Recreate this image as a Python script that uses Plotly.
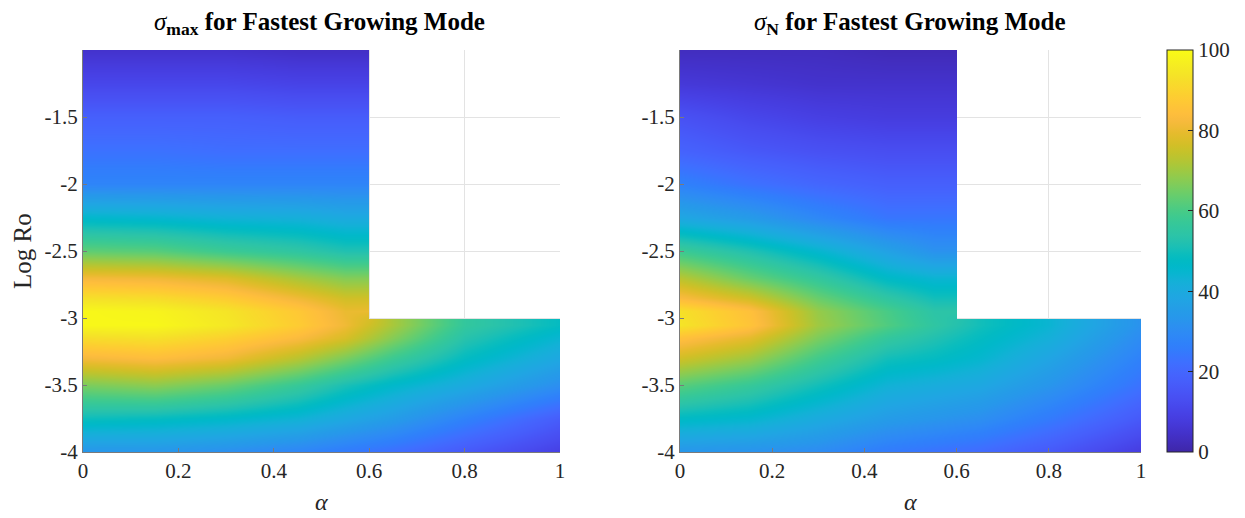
import numpy as np
import plotly.graph_objects as go

# ---- data ----
alpha = [0, 0.15, 0.3, 0.45, 0.55, 0.65, 0.8, 1.0]
log_ro = [-4.0, -3.75, -3.5, -3.3, -3.15, -3.05, -2.95, -2.85, -2.7, -2.5,
          -2.25, -2.0, -1.75, -1.5, -1.25, -1.0]
N = None
sigma_max = [
    [33, 33, 31, 28, 25, 22, 16, 9],
    [49, 48, 46, 43, 39, 35, 27, 17],
    [66, 68, 64, 57, 51, 46, 40, 31],
    [82, 84, 81, 73, 66, 58, 48, 39],
    [92, 93, 89, 83, 77, 67, 53, 44],
    [99, 99, 95, 88, 81, 71, 56, 48],
    [99, 98, 94, 87, 80, N, N, N],
    [93, 92, 88, 81, 76, N, N, N],
    [82, 81, 78, 71, 67, N, N, N],
    [63, 62, 58, 55, 52, N, N, N],
    [46, 45, 43, 42, 40, N, N, N],
    [28, 28, 28, 28, 28, N, N, N],
    [23, 23, 22, 22, 22, N, N, N],
    [18, 18, 18, 17, 17, N, N, N],
    [11, 11, 11, 10, 10, N, N, N],
    [5, 5, 5, 4, 4, N, N, N],
]
sigma_n = [
    [33, 32, 30, 25, 23, 21, 16, 8],
    [47, 45, 40, 35, 33, 31, 25, 16],
    [62, 57, 50, 43, 41, 39, 33, 23],
    [76, 70, 59, 50, 48, 45, 38, 27],
    [85, 79, 66, 56, 52, 48, 42, 30],
    [94, 86, 70, 61, 55, 50, 44, 32],
    [93, 85, 69, 60, 54, N, N, N],
    [83, 76, 64, 55, 50, N, N, N],
    [73, 64, 56, 47, 44, N, N, N],
    [58, 52, 45, 37, 32, N, N, N],
    [39, 35, 29, 24, 24, N, N, N],
    [27, 23, 20, 18, 18, N, N, N],
    [19, 16, 14, 13, 13, N, N, N],
    [14, 11, 9, 8, 8, N, N, N],
    [7, 6, 5, 5, 5, N, N, N],
    [3, 3, 3, 2, 2, N, N, N],
]
x_ticks = [0, 0.2, 0.4, 0.6, 0.8, 1]
x_ticktext = ["0", "0.2", "0.4", "0.6", "0.8", "1"]
y_ticks = [-4, -3.5, -3, -2.5, -2, -1.5]
y_ticktext = ["-4", "-3.5", "-3", "-2.5", "-2", "-1.5"]
cb_ticks = [0, 20, 40, 60, 80, 100]

# ---- parula colormap ----
parula = [
    (0.2422, 0.1504, 0.6603), (0.2504, 0.1650, 0.7076), (0.2578, 0.1818, 0.7511),
    (0.2647, 0.1978, 0.7952), (0.2706, 0.2147, 0.8364), (0.2751, 0.2342, 0.8710),
    (0.2783, 0.2559, 0.8991), (0.2803, 0.2782, 0.9221), (0.2813, 0.3006, 0.9414),
    (0.2810, 0.3228, 0.9579), (0.2795, 0.3447, 0.9717), (0.2760, 0.3667, 0.9829),
    (0.2699, 0.3892, 0.9906), (0.2602, 0.4123, 0.9952), (0.2440, 0.4358, 0.9988),
    (0.2206, 0.4603, 0.9973), (0.1963, 0.4847, 0.9892), (0.1834, 0.5074, 0.9798),
    (0.1786, 0.5289, 0.9682), (0.1764, 0.5499, 0.9520), (0.1687, 0.5703, 0.9359),
    (0.1540, 0.5902, 0.9218), (0.1460, 0.6091, 0.9079), (0.1380, 0.6276, 0.8973),
    (0.1248, 0.6459, 0.8883), (0.1113, 0.6635, 0.8763), (0.0952, 0.6798, 0.8598),
    (0.0689, 0.6948, 0.8394), (0.0297, 0.7082, 0.8163), (0.0036, 0.7203, 0.7917),
    (0.0067, 0.7312, 0.7660), (0.0433, 0.7411, 0.7394), (0.0964, 0.7500, 0.7120),
    (0.1408, 0.7584, 0.6842), (0.1717, 0.7670, 0.6554), (0.1938, 0.7758, 0.6251),
    (0.2161, 0.7843, 0.5923), (0.2470, 0.7918, 0.5567), (0.2906, 0.7973, 0.5188),
    (0.3406, 0.8008, 0.4789), (0.3909, 0.8029, 0.4354), (0.4456, 0.8024, 0.3909),
    (0.5044, 0.7993, 0.3480), (0.5616, 0.7942, 0.3045), (0.6174, 0.7876, 0.2612),
    (0.6720, 0.7793, 0.2227), (0.7242, 0.7698, 0.1910), (0.7738, 0.7598, 0.1646),
    (0.8203, 0.7498, 0.1535), (0.8634, 0.7406, 0.1596), (0.9035, 0.7330, 0.1774),
    (0.9393, 0.7288, 0.2100), (0.9728, 0.7298, 0.2394), (0.9956, 0.7434, 0.2371),
    (0.9970, 0.7659, 0.2199), (0.9952, 0.7893, 0.2028), (0.9892, 0.8136, 0.1885),
    (0.9786, 0.8386, 0.1766), (0.9676, 0.8639, 0.1643), (0.9610, 0.8890, 0.1537),
    (0.9597, 0.9135, 0.1423), (0.9628, 0.9373, 0.1265), (0.9691, 0.9606, 0.1064),
    (0.9769, 0.9839, 0.0805),
]
n = len(parula)
colorscale = [[i / (n - 1), "rgb(%d,%d,%d)" % tuple(round(c * 255) for c in col)]
              for i, col in enumerate(parula)]

W, H = 1245, 518
FONT = "Liberation Serif, Times New Roman, serif"
TXT = "#262626"

def px_x(p):
    return p / W

def px_y(p):
    return 1 - p / H

fig = go.Figure()
fig.add_trace(go.Heatmap(x=alpha, y=log_ro, z=sigma_max, zsmooth="best",
                         coloraxis="coloraxis", xaxis="x", yaxis="y",
                         hoverongaps=False))
fig.add_trace(go.Heatmap(x=alpha, y=log_ro, z=sigma_n, zsmooth="best",
                         coloraxis="coloraxis", xaxis="x2", yaxis="y2",
                         hoverongaps=False))

axis_common = dict(
    showgrid=True, gridcolor="#e3e3e3", gridwidth=1,
    showline=True, linecolor="#7a7a7a", linewidth=1,
    ticks="inside", ticklen=4, tickcolor="#7a7a7a",
    zeroline=False, automargin=False,
    tickfont=dict(family=FONT, size=21, color=TXT),
)
y0, y1 = px_y(452), px_y(50)
fig.update_layout(
    width=W, height=H, margin=dict(l=0, r=0, t=0, b=0, pad=0, autoexpand=False),
    paper_bgcolor="white", plot_bgcolor="white",
    showlegend=False,
    xaxis=dict(domain=[px_x(83), px_x(560)], range=[0, 1], tickvals=x_ticks,
               ticktext=x_ticktext, anchor="y", **axis_common),
    yaxis=dict(domain=[y0, y1], range=[-4, -1], tickvals=y_ticks,
               ticktext=y_ticktext, anchor="x", **axis_common),
    xaxis2=dict(domain=[px_x(680), px_x(1141)], range=[0, 1], tickvals=x_ticks,
                ticktext=x_ticktext, anchor="y2", **axis_common),
    yaxis2=dict(domain=[y0, y1], range=[-4, -1], tickvals=y_ticks,
                ticktext=y_ticktext, anchor="x2", **axis_common),
    coloraxis=dict(
        colorscale=colorscale, cmin=0, cmax=100,
        colorbar=dict(
            x=px_x(1167), xanchor="left", xpad=0, ypad=0,
            y=(y0 + y1) / 2, yanchor="middle",
            len=402, lenmode="pixels", thickness=26, thicknessmode="pixels",
            outlinecolor=TXT, outlinewidth=1,
            tickvals=cb_ticks, ticks="inside", ticklen=5, tickcolor=TXT,
            tickfont=dict(family=FONT, size=21, color=TXT),
        ),
    ),
)

anns = [
    dict(text="<i>σ</i><sub><b>max</b></sub><b> for Fastest Growing Mode</b>",
         x=px_x(320), y=px_y(23), xanchor="center", yanchor="middle"),
    dict(text="<i>σ</i><sub><b>N</b></sub><b> for Fastest Growing Mode</b>",
         x=px_x(910), y=px_y(23), xanchor="center", yanchor="middle"),
    dict(text="<i>α</i>", x=px_x(321), y=px_y(502), xanchor="center", yanchor="middle",
         font=dict(family=FONT, size=24, color=TXT)),
    dict(text="<i>α</i>", x=px_x(910), y=px_y(502), xanchor="center", yanchor="middle",
         font=dict(family=FONT, size=24, color=TXT)),
    dict(text="Log Ro", x=px_x(22), y=px_y(251), xanchor="center", yanchor="middle",
         textangle=-90, font=dict(family=FONT, size=25, color=TXT)),
]
for a in anns:
    a.setdefault("font", dict(family=FONT, size=25, color="black"))
    fig.add_annotation(xref="paper", yref="paper", showarrow=False, **a)

fig.write_html("out.html")
